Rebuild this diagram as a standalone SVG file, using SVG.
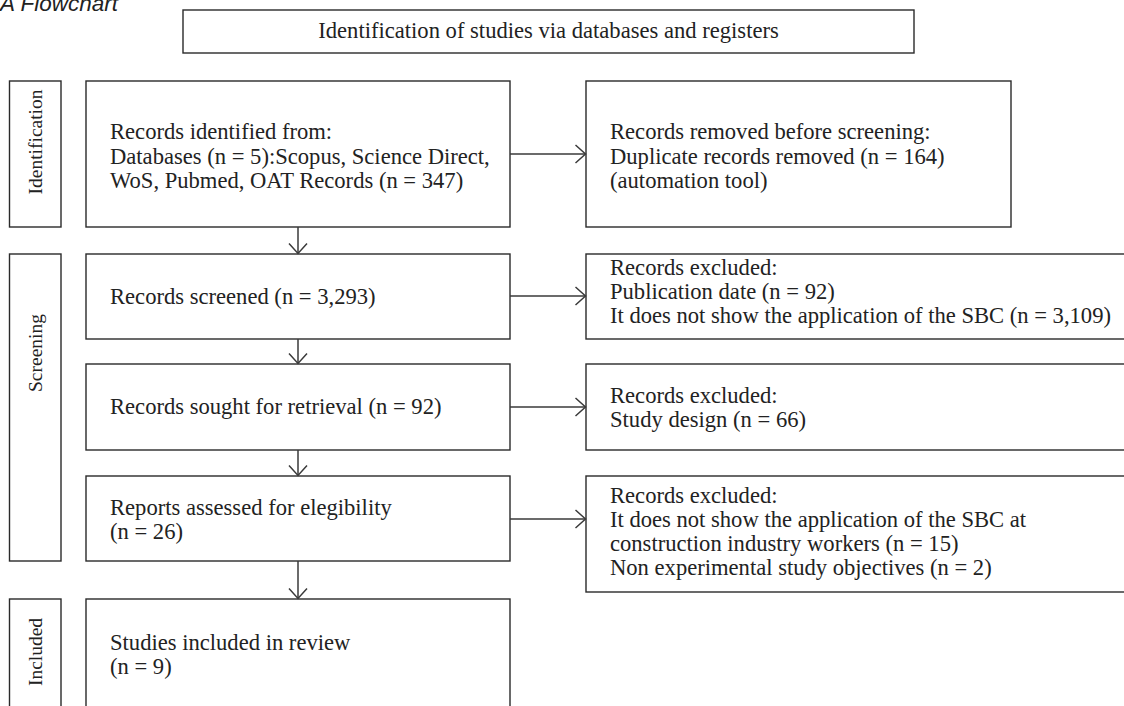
<svg xmlns="http://www.w3.org/2000/svg" width="1124" height="706" viewBox="0 0 1124 706">
<defs>
<style>
.box{fill:#fff;stroke:#2a2a2a;stroke-width:1.4}
.t{font-family:"Liberation Serif","Times New Roman",serif;font-size:22.6px;fill:#222}
.side{font-family:"Liberation Serif","Times New Roman",serif;font-size:19.5px;fill:#222}
.conn{fill:none;stroke:#3a3a3a;stroke-width:1.5}
.cap{font-family:"Liberation Sans",Arial,sans-serif;font-style:italic;font-size:22.5px;fill:#222}
</style>
<marker id="arr" markerWidth="12" markerHeight="20" viewBox="-11 -10 12 20" refX="0" refY="0" orient="auto" markerUnits="userSpaceOnUse">
<path d="M-10,-9 L0,0 L-10,9" fill="none" stroke="#3a3a3a" stroke-width="1.5"/>
</marker>
</defs>
<rect width="1124" height="706" fill="#fff"/>
<text class="cap" x="0" y="11">A Flowchart</text>

<g id="header">
<rect class="box" x="183" y="10" width="731" height="43"/>
<text class="t" x="548.5" y="38" text-anchor="middle" font-size="21.7">Identification of studies via databases and registers</text>
</g>

<g id="side-identification">
<rect class="box" x="9.5" y="81" width="51.5" height="146"/>
<text class="side" transform="translate(41.5,142) rotate(-90)" text-anchor="middle">Identification</text>
</g>
<g id="side-screening">
<rect class="box" x="9.5" y="254" width="51.5" height="307"/>
<text class="side" transform="translate(41.5,353) rotate(-90)" text-anchor="middle">Screening</text>
</g>
<g id="side-included">
<rect class="box" x="9.5" y="599" width="51.5" height="120"/>
<text class="side" transform="translate(41.5,652) rotate(-90)" text-anchor="middle">Included</text>
</g>

<g id="identified">
<rect class="box" x="86" y="81" width="424" height="146"/>
<text class="t" x="110" y="139">Records identified from:</text>
<text class="t" x="110" y="163.5">Databases (n = 5):Scopus, Science Direct,</text>
<text class="t" x="110" y="188">WoS, Pubmed, OAT Records (n = 347)</text>
</g>
<g id="removed">
<rect class="box" x="586" y="81" width="425" height="146"/>
<text class="t" x="610" y="139">Records removed before screening:</text>
<text class="t" x="610" y="163.5">Duplicate records removed (n = 164)</text>
<text class="t" x="610" y="188">(automation tool)</text>
</g>

<g id="screened">
<rect class="box" x="86" y="254" width="424" height="85"/>
<text class="t" x="110" y="304">Records screened (n = 3,293)</text>
</g>
<g id="excluded1">
<rect class="box" x="586" y="254" width="560" height="85"/>
<text class="t" x="610" y="275">Records excluded:</text>
<text class="t" x="610" y="299">Publication date (n = 92)</text>
<text class="t" x="610" y="323">It does not show the application of the SBC (n = 3,109)</text>
</g>

<g id="sought">
<rect class="box" x="86" y="364" width="424" height="86"/>
<text class="t" x="110" y="414">Records sought for retrieval (n = 92)</text>
</g>
<g id="excluded2">
<rect class="box" x="586" y="364" width="560" height="86"/>
<text class="t" x="610" y="403">Records excluded:</text>
<text class="t" x="610" y="427">Study design (n = 66)</text>
</g>

<g id="assessed">
<rect class="box" x="86" y="476" width="424" height="85"/>
<text class="t" x="110" y="515">Reports assessed for elegibility</text>
<text class="t" x="110" y="539">(n = 26)</text>
</g>
<g id="excluded3">
<rect class="box" x="586" y="476" width="560" height="116"/>
<text class="t" x="610" y="503">Records excluded:</text>
<text class="t" x="610" y="527">It does not show the application of the SBC at</text>
<text class="t" x="610" y="551">construction industry workers (n = 15)</text>
<text class="t" x="610" y="575">Non experimental study objectives (n = 2)</text>
</g>

<g id="included">
<rect class="box" x="86" y="599" width="424" height="120"/>
<text class="t" x="110" y="650">Studies included in review</text>
<text class="t" x="110" y="674">(n = 9)</text>
</g>

<g id="connectors">
<line class="conn" x1="298" y1="227" x2="298" y2="253.5" marker-end="url(#arr)"/>
<line class="conn" x1="298" y1="339" x2="298" y2="363.5" marker-end="url(#arr)"/>
<line class="conn" x1="298" y1="450" x2="298" y2="475.5" marker-end="url(#arr)"/>
<line class="conn" x1="298" y1="561" x2="298" y2="598.5" marker-end="url(#arr)"/>
<line class="conn" x1="510" y1="154" x2="585.5" y2="154" marker-end="url(#arr)"/>
<line class="conn" x1="510" y1="296" x2="585.5" y2="296" marker-end="url(#arr)"/>
<line class="conn" x1="510" y1="407" x2="585.5" y2="407" marker-end="url(#arr)"/>
<line class="conn" x1="510" y1="519" x2="585.5" y2="519" marker-end="url(#arr)"/>
</g>
</svg>
